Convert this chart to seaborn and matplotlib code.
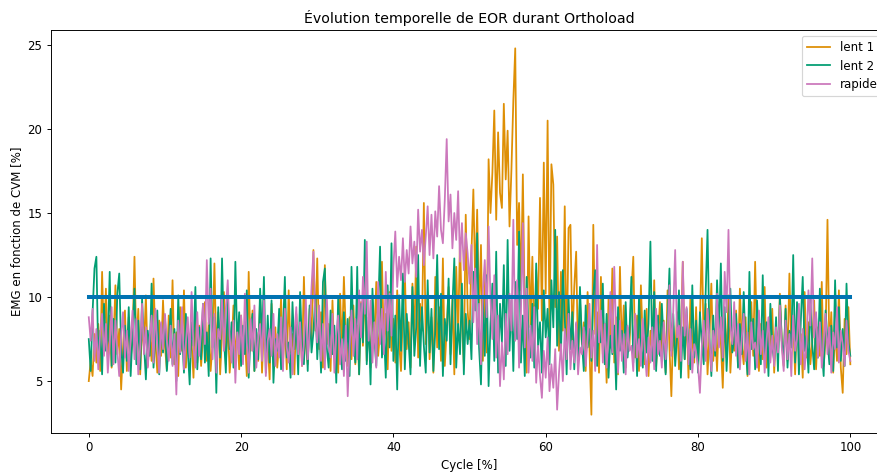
import matplotlib
matplotlib.use("Agg")
import matplotlib.pyplot as plt
import numpy as np
import pandas as pd
import seaborn as sns

# EMG activity (% of MVC) sampled every 0.25 % of the cycle, one row = 5 % of cycle
lent_1 = [
    5.0, 6.2, 5.3, 7.8, 6.1, 8.4, 5.6, 11.5, 7.2, 10.5, 6.4, 8.9, 5.8, 7.3, 10.7, 6.6, 8.1, 4.5, 7.0, 9.2,
    5.6, 8.8, 6.3, 7.5, 12.4, 6.9, 9.3, 5.4, 8.2, 7.0, 10.1, 5.9, 7.7, 6.2, 11.1, 7.4, 5.5, 8.6, 6.5, 9.8,
    7.1, 5.7, 8.9, 6.4, 11.0, 6.0, 7.9, 5.3, 9.4, 6.8, 10.4, 5.8, 8.0, 6.6, 7.4, 5.2, 9.0, 6.1, 8.3, 5.9,
    7.6, 9.7, 6.2, 8.5, 5.6, 7.2, 12.0, 6.5, 9.1, 5.4, 7.8, 10.3, 6.0, 8.7, 5.5, 7.0, 9.5, 6.3, 8.1, 5.7,
    8.9, 6.6, 7.7, 5.3, 11.5, 6.8, 9.2, 5.6, 7.9, 6.2, 10.0, 5.5, 8.4, 6.9, 7.3, 5.1, 9.6, 6.4, 8.2, 5.8,
    7.4, 9.9, 6.1, 8.3, 5.7, 10.4, 6.7, 7.8, 5.4, 9.0, 6.5, 8.6, 5.9, 11.2, 7.1, 6.0, 9.3, 7.5, 12.8, 8.0,
    12.3, 6.9, 9.1, 5.8, 11.9, 7.2, 8.4, 5.6, 9.8, 6.4, 7.7, 5.5, 10.2, 6.8, 11.2, 7.9, 5.9, 8.8, 6.3, 9.5,
    6.0, 8.3, 5.4, 9.7, 7.1, 10.9, 6.2, 8.6, 5.8, 9.4, 7.4, 10.9, 6.5, 8.0, 12.1, 7.0, 9.0, 5.7, 10.3, 6.8,
    8.7, 6.1, 10.4, 7.3, 5.6, 9.2, 11.6, 6.9, 8.5, 5.8, 10.8, 7.5, 13.0, 6.4, 9.6, 8.0, 15.6, 7.2, 10.1, 6.3,
    8.8, 5.5, 11.2, 7.0, 9.4, 6.2, 12.3, 5.9, 8.1, 10.6, 6.6, 9.9, 5.4, 11.8, 7.7, 13.5, 8.4, 6.0, 14.9, 9.2,
    7.5, 12.6, 16.4, 10.8, 15.2, 8.9, 13.1, 6.2, 11.2, 6.7, 18.2, 15.0, 17.4, 21.1, 14.6, 19.8, 16.2, 15.3, 21.5, 17.0,
    19.9, 14.2, 17.6, 21.7, 24.8, 13.1, 15.6, 10.4, 17.3, 9.0, 5.5, 14.8, 8.2, 12.4, 7.1, 11.6, 9.3, 15.9, 8.6, 18.0,
    10.2, 20.5, 7.9, 17.9, 16.7, 9.4, 13.6, 6.8, 11.5, 8.0, 15.4, 6.3, 14.1, 14.3, 7.4, 10.6, 12.7, 6.1, 9.8, 7.2,
    8.5, 5.6, 10.3, 6.9, 3.0, 14.3, 7.8, 9.1, 5.5, 11.2, 6.6, 8.4, 4.9, 9.9, 7.0, 11.7, 6.1, 8.8, 5.4, 11.8,
    6.9, 9.5, 5.8, 8.2, 7.1, 10.2, 12.4, 6.4, 8.9, 5.6, 10.7, 7.3, 6.0, 9.3, 5.3, 8.0, 6.7, 11.0, 5.9, 7.6,
    9.7, 6.2, 8.6, 5.5, 10.4, 7.0, 4.1, 8.3, 6.5, 9.1, 5.7, 7.8, 12.1, 6.3, 8.9, 5.2, 10.0, 7.4, 6.1, 9.4,
    5.8, 8.5, 13.5, 6.9, 9.6, 5.4, 7.7, 10.8, 6.2, 8.1, 5.6, 9.0, 7.3, 4.6, 8.7, 6.4, 10.1, 5.5, 7.9, 6.8,
    9.2, 5.9, 10.5, 7.1, 6.0, 8.8, 5.3, 7.6, 9.7, 6.5, 12.1, 7.2, 5.6, 8.4, 6.3, 10.6, 5.8, 7.9, 6.8, 9.3,
    5.5, 8.1, 6.6, 10.2, 7.4, 5.9, 9.5, 6.2, 11.4, 7.0, 8.6, 5.4, 9.0, 6.7, 7.8, 5.2, 10.3, 6.4, 8.5, 6.0,
    7.3, 9.8, 5.7, 8.2, 6.5, 10.9, 5.9, 7.5, 14.6, 6.8, 9.1, 5.5, 8.0, 6.2, 10.4, 5.8, 4.3, 8.7, 6.6, 9.4,
    6.0,
]

lent_2 = [
    7.5, 5.6, 9.1, 11.7, 12.4, 6.3, 8.0, 5.4, 9.6, 6.8, 7.4, 11.5, 5.9, 8.7, 6.1, 10.2, 11.4, 7.0, 5.5, 8.3,
    6.2, 9.4, 5.3, 7.9, 10.5, 6.0, 8.6, 5.7, 9.9, 7.2, 5.1, 8.0, 6.5, 10.8, 5.8, 7.6, 9.2, 5.4, 8.4, 6.7,
    8.9, 5.6, 7.3, 9.3, 6.0, 8.1, 5.0, 10.1, 6.6, 7.8, 5.5, 9.0, 6.9, 4.8, 8.5, 7.1, 10.6, 5.7, 8.2, 6.3,
    9.6, 6.1, 7.9, 5.3, 12.3, 7.0, 8.8, 4.3, 9.4, 6.4, 12.3, 7.6, 5.5, 10.0, 6.9, 8.5, 5.8, 12.1, 7.2, 9.1,
    5.9, 8.3, 6.6, 10.4, 5.2, 7.7, 9.0, 5.6, 8.1, 6.3, 10.5, 7.4, 11.2, 5.5, 8.9, 6.1, 9.8, 4.9, 7.5, 6.8,
    9.3, 5.7, 8.0, 11.2, 6.4, 7.3, 5.2, 9.7, 6.9, 8.5, 5.4, 10.3, 7.1, 6.0, 8.8, 5.6, 9.5, 6.7, 7.9, 10.1,
    6.3, 8.6, 5.5, 10.9, 11.7, 7.0, 5.8, 9.2, 6.6, 8.3, 4.9, 10.0, 7.4, 5.7, 9.1, 6.2, 8.7, 5.3, 11.8, 7.5,
    6.1, 11.8, 5.4, 9.6, 7.3, 13.4, 6.0, 8.8, 4.8, 10.5, 7.6, 5.9, 9.2, 13.0, 6.4, 8.1, 5.2, 10.7, 7.0, 13.2,
    6.2, 8.9, 4.5, 10.1, 6.8, 11.4, 5.7, 9.0, 7.3, 5.4, 10.6, 6.5, 8.2, 12.5, 5.9, 9.4, 7.1, 5.5, 11.0, 6.7,
    9.3, 5.6, 8.0, 12.5, 6.9, 10.2, 5.3, 8.7, 7.4, 11.1, 6.0, 9.5, 12.3, 5.8, 8.4, 6.6, 10.8, 5.4, 9.0, 7.2,
    8.6, 6.3, 11.5, 9.2, 13.8, 7.0, 4.8, 9.9, 6.5, 11.3, 4.7, 8.4, 10.8, 6.2, 12.7, 5.5, 9.6, 7.3, 11.9, 5.9,
    13.4, 6.8, 9.8, 5.6, 10.9, 7.5, 13.9, 6.1, 8.9, 5.3, 11.2, 7.8, 6.4, 9.6, 5.8, 12.0, 7.0, 8.5, 5.5, 10.4,
    7.6, 9.3, 6.0, 11.0, 8.2, 14.0, 7.1, 10.3, 6.5, 11.6, 8.8, 5.4, 10.0, 6.9, 9.1, 5.7, 8.4, 6.3, 10.6, 7.4,
    5.6, 9.5, 7.0, 8.1, 6.2, 10.1, 11.6, 5.9, 8.6, 7.3, 10.8, 6.0, 9.0, 5.2, 7.7, 6.6, 8.3, 4.5, 9.4, 6.8,
    8.0, 5.5, 9.7, 6.4, 7.9, 11.2, 6.1, 8.8, 5.3, 10.0, 7.1, 5.8, 9.2, 6.7, 8.4, 13.3, 6.2, 10.3, 5.6, 8.9,
    6.5, 9.6, 7.2, 5.4, 8.5, 11.7, 6.8, 9.0, 5.9, 7.6, 10.4, 5.2, 8.2, 6.3, 9.3, 7.0, 5.7, 10.7, 6.4, 8.6,
    5.5, 9.1, 7.3, 6.0, 10.2, 14.0, 7.6, 5.3, 8.9, 6.5, 11.0, 7.8, 12.0, 6.2, 9.4, 5.6, 8.1, 10.5, 6.7, 7.4,
    9.0, 5.8, 8.4, 6.6, 10.3, 7.0, 5.4, 11.5, 6.9, 8.7, 5.7, 9.8, 7.2, 6.0, 11.3, 6.4, 8.5, 5.3, 9.6, 7.1,
    6.2, 8.8, 5.6, 10.0, 7.4, 6.3, 9.3, 5.8, 8.0, 7.0, 12.5, 6.1, 9.7, 5.4, 8.6, 11.2, 6.8, 7.7, 5.5, 9.9,
    7.2, 5.7, 8.9, 6.4, 10.5, 6.9, 5.3, 9.2, 7.5, 6.0, 8.3, 5.6, 11.0, 7.0, 9.4, 6.2, 8.1, 5.9, 10.8, 7.3,
    6.5,
]

rapide = [
    8.8, 7.4, 9.3, 6.2, 8.1, 5.7, 7.9, 9.0, 6.5, 8.4, 5.5, 7.2, 9.4, 6.0, 8.6, 6.8, 5.3, 7.7, 9.1, 6.4,
    8.0, 5.6, 7.5, 9.2, 6.3, 8.7, 5.4, 7.0, 9.6, 6.6, 8.2, 5.8, 7.6, 8.9, 6.1, 9.3, 7.1, 5.5, 8.5, 6.9,
    9.0, 7.4, 6.2, 8.3, 5.9, 7.8, 4.2, 8.6, 6.7, 9.4, 5.7, 7.3, 8.8, 6.4, 10.3, 7.0, 5.8, 9.1, 6.5, 8.0,
    9.6, 7.2, 12.2, 8.4, 10.5, 6.3, 9.0, 5.5, 8.1, 7.5, 10.0, 6.8, 9.3, 11.0, 7.7, 6.1, 8.6, 4.9, 7.9, 6.6,
    8.9, 6.0, 10.2, 7.3, 5.5, 8.7, 6.8, 9.5, 5.8, 7.6, 8.4, 6.2, 9.8, 5.3, 7.4, 8.1, 6.5, 9.0, 5.9, 7.8,
    6.4, 8.8, 5.6, 9.3, 7.0, 6.1, 8.2, 5.4, 7.7, 9.4, 6.6, 8.5, 5.9, 7.2, 9.9, 6.3, 8.0, 10.6, 12.7, 8.6,
    7.3, 9.5, 6.2, 8.4, 5.7, 10.1, 7.1, 6.4, 9.0, 5.5, 7.8, 8.9, 6.0, 7.5, 5.3, 8.3, 4.1, 7.0, 9.2, 6.5,
    8.7, 6.3, 10.4, 7.6, 11.2, 9.0, 13.3, 7.4, 9.8, 6.1, 8.5, 5.8, 10.9, 7.2, 9.3, 6.6, 11.5, 8.0, 10.2, 7.7,
    11.8, 13.9, 10.6, 12.4, 11.0, 13.5, 10.9, 12.8, 11.4, 14.2, 12.0, 13.3, 11.2, 15.2, 12.7, 14.0, 11.9, 13.6, 15.4, 12.5,
    14.9, 12.3, 15.1, 13.6, 16.6, 14.0, 13.2, 15.8, 19.4, 14.5, 16.1, 12.9, 15.0, 13.4, 16.3, 12.1, 14.4, 11.6, 13.8, 12.6,
    10.8, 13.1, 8.5, 11.7, 7.2, 9.6, 6.0, 10.4, 12.2, 8.8, 14.2, 9.9, 7.5, 11.3, 6.4, 8.9, 4.7, 7.3, 5.1, 9.0,
    6.6, 10.2, 8.0, 14.6, 7.4, 11.0, 5.8, 9.1, 14.4, 7.0, 10.5, 5.5, 8.3, 6.2, 9.4, 4.9, 7.1, 5.3, 4.0, 6.8,
    5.2, 7.6, 4.4, 6.0, 4.6, 6.9, 3.3, 5.5, 7.2, 5.0, 8.1, 6.3, 9.0, 5.7, 7.4, 6.1, 8.5, 5.4, 7.0, 6.6,
    8.2, 5.9, 7.5, 9.6, 6.4, 8.0, 5.6, 13.1, 7.3, 9.2, 6.1, 8.4, 5.8, 7.7, 10.3, 6.7, 11.8, 7.9, 5.5, 8.6,
    6.2, 7.8, 5.4, 8.3, 6.8, 7.1, 5.6, 9.0, 6.4, 7.5, 5.9, 8.7, 6.9, 5.3, 7.6, 6.1, 8.2, 5.7, 9.3, 6.6,
    7.4, 5.8, 8.5, 6.3, 7.9, 10.7, 6.5, 9.2, 12.8, 7.6, 8.3, 6.2, 12.1, 7.7, 9.4, 6.0, 8.1, 5.5, 7.2, 6.7,
    5.9, 4.3, 7.1, 8.6, 6.2, 9.3, 7.4, 5.6, 8.0, 6.8, 10.2, 7.0, 8.8, 6.4, 11.5, 9.1, 14.0, 8.3, 7.2, 9.7,
    6.5, 8.4, 5.7, 7.6, 9.0, 6.2, 7.9, 5.4, 8.5, 6.9, 7.3, 5.8, 9.2, 6.6, 8.0, 5.5, 7.4, 8.8, 6.1, 7.7,
    5.9, 8.2, 6.7, 9.5, 7.0, 5.6, 8.6, 6.3, 7.8, 5.3, 8.9, 6.8, 7.5, 9.6, 6.0, 8.1, 5.7, 7.2, 10.4, 8.3,
    12.3, 7.6, 9.1, 6.4, 8.5, 5.8, 7.3, 9.0, 6.6, 8.2, 5.5, 7.9, 6.9, 9.4, 6.1, 8.0, 7.2, 5.9, 8.6, 6.8,
    6.2,
]

series_names = ["lent 1", "lent 2", "rapide"]
threshold = 10.0

cycle = np.linspace(0, 100, len(lent_1))

df = pd.DataFrame({
    "cycle": np.tile(cycle, 3),
    "emg": np.concatenate([lent_1, lent_2, rapide]),
    "essai": np.repeat(series_names, len(cycle)),
})

palette = sns.color_palette("colorblind")
colors = {"lent 1": palette[1], "lent 2": palette[2], "rapide": palette[4]}

DPI = 85
fig = plt.figure(figsize=(877 / DPI, 472 / DPI), dpi=DPI)
ax = fig.add_axes([0.0578, 0.0826, 0.9552, 0.8538])

for name in series_names:
    sub = df[df["essai"] == name]
    sns.lineplot(data=sub, x="cycle", y="emg", color=colors[name], label=name,
                 linewidth=1.5, ax=ax, estimator=None)

# threshold reference line across the cycle
ax.plot([cycle[0], cycle[-1]], [threshold, threshold], color=palette[0], linewidth=3.4)

ax.set_title("Évolution temporelle de EOR durant Orthoload", fontsize=12)
ax.set_xlabel("Cycle [%]")
ax.set_ylabel("EMG en fonction de CVM [%]")
ax.legend(loc="upper right")

fig.savefig("out.png", dpi=DPI)
